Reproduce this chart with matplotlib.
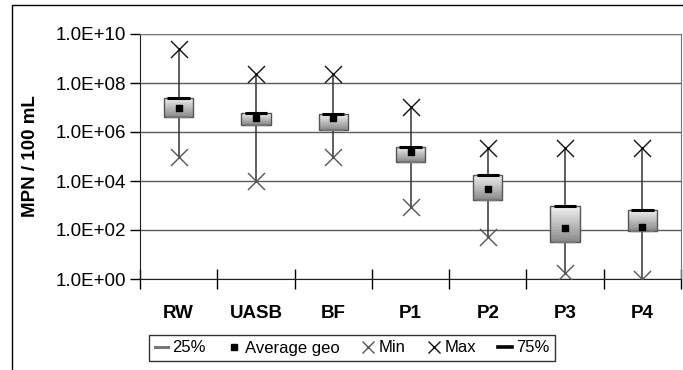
import numpy as np
import matplotlib as mpl
import matplotlib.pyplot as plt
from matplotlib.lines import Line2D
from matplotlib.patches import Rectangle

plt.rc('font', family='Liberation Sans')

# data (MPN / 100 mL)
CATEGORIES = ['RW', 'UASB', 'BF', 'P1', 'P2', 'P3', 'P4']
MIN_VALS = [1.0e5, 1.0e4, 1.0e5, 9.0e2, 5.0e1, 1.7e0, 1.0e0]
Q25_VALS = [4.0e6, 2.0e6, 1.2e6, 6.0e4, 1.7e3, 3.2e1, 9.0e1]
AVG_GEO = [9.5e6, 3.7e6, 3.7e6, 1.5e5, 4.7e3, 1.2e2, 1.3e2]
Q75_VALS = [2.5e7, 6.0e6, 5.4e6, 2.5e5, 1.7e4, 9.5e2, 6.6e2]
MAX_VALS = [2.5e9, 2.3e8, 2.3e8, 1.05e7, 2.2e5, 2.2e5, 2.2e5]

YTICKS = [1e0, 1e2, 1e4, 1e6, 1e8, 1e10]

W, H = 683, 370
fig = plt.figure(figsize=(W / 100, H / 100), dpi=100)
ax = fig.add_axes([140 / W, 1 - 279 / H, 541 / W, 245 / H])

x = np.arange(len(CATEGORIES))
box_w = 0.38
cmap = mpl.colors.LinearSegmentedColormap.from_list('g', ['#eeeeee', '#8a8a8a'])

for i in range(len(CATEGORIES)):
    # whisker
    ax.plot([x[i], x[i]], [MIN_VALS[i], MAX_VALS[i]], color='#333333', lw=1.1, zorder=2)
    # gradient box
    edges = np.logspace(np.log10(Q25_VALS[i]), np.log10(Q75_VALS[i]), 25)
    for k in range(len(edges) - 1):
        ax.bar(x[i], edges[k + 1] - edges[k], bottom=edges[k], width=box_w,
               color=cmap(1 - k / (len(edges) - 2)), linewidth=0, zorder=3)
    ax.bar(x[i], Q75_VALS[i] - Q25_VALS[i], bottom=Q25_VALS[i], width=box_w,
           fill=False, edgecolor='#555555', linewidth=1.0, zorder=4)
    # quartile dashes
    ax.plot([x[i] - box_w * 0.38, x[i] + box_w * 0.38], [Q75_VALS[i]] * 2,
            color='black', lw=2.2, zorder=5, solid_capstyle='butt')
    ax.plot([x[i] - box_w * 0.38, x[i] + box_w * 0.38], [Q25_VALS[i]] * 2,
            color='#777777', lw=1.6, zorder=5, solid_capstyle='butt')

ax.scatter(x, AVG_GEO, marker='s', s=22, color='black', zorder=6)
ax.scatter(x, MIN_VALS, marker='x', s=150, color='#555555', linewidths=1.0, zorder=6)
ax.scatter(x, MAX_VALS, marker='x', s=150, color='#111111', linewidths=1.0, zorder=6)

ax.set_yscale('log')
ax.set_ylim(1e0, 1e10)
ax.set_xlim(-0.5, len(CATEGORIES) - 0.5)
ax.set_yticks(YTICKS)
ax.set_yticklabels([f'{v:.1E}' for v in YTICKS], fontsize=13.5)
ax.yaxis.set_minor_locator(mpl.ticker.NullLocator())
ax.tick_params(axis='y', direction='out', length=7, width=1, pad=3)
ax.set_xticks(x)
ax.set_xticklabels(CATEGORIES, fontsize=13.5, fontweight='bold')
ax.tick_params(axis='x', which='major', length=0, pad=19)
ax.set_xticks(np.arange(-0.5, len(CATEGORIES)), minor=True)
ax.tick_params(axis='x', which='minor', direction='inout', length=14, width=1)

ax.grid(True, axis='y', which='major', color='#5a5a5a', lw=1.0, zorder=1)
ax.set_axisbelow(True)
for s in ['top', 'right']:
    ax.spines[s].set_color('#777777')
ax.spines['left'].set_color('#222222')
ax.spines['bottom'].set_color('#222222')

ax.set_ylabel('MPN / 100 mL', fontsize=13.5, fontweight='bold', labelpad=12)

handles = [
    Line2D([], [], color='#777777', lw=2.2, label='25%'),
    Line2D([], [], marker='s', color='black', ls='none', markersize=4.5, label='Average geo'),
    Line2D([], [], marker='x', color='#555555', ls='none', markersize=9, label='Min'),
    Line2D([], [], marker='x', color='#111111', ls='none', markersize=9, label='Max'),
    Line2D([], [], color='black', lw=2.6, label='75%'),
]
leg = fig.legend(handles=handles, loc='center', bbox_to_anchor=(352 / W, 1 - 348 / H),
                 ncol=5, fontsize=12, frameon=True, fancybox=False,
                 handlelength=0.8, handletextpad=0.25, columnspacing=1.3,
                 borderpad=0.35, edgecolor='black')
leg.get_frame().set_linewidth(1.0)

# outer chart frame (cut off at right and bottom like the reference)
fig.patches.append(Rectangle((12 / W, -0.1), 1.0, 1.1 - 5 / H, transform=fig.transFigure,
                             fill=False, edgecolor='black', lw=1.0))

fig.savefig('out.png', dpi=100)
